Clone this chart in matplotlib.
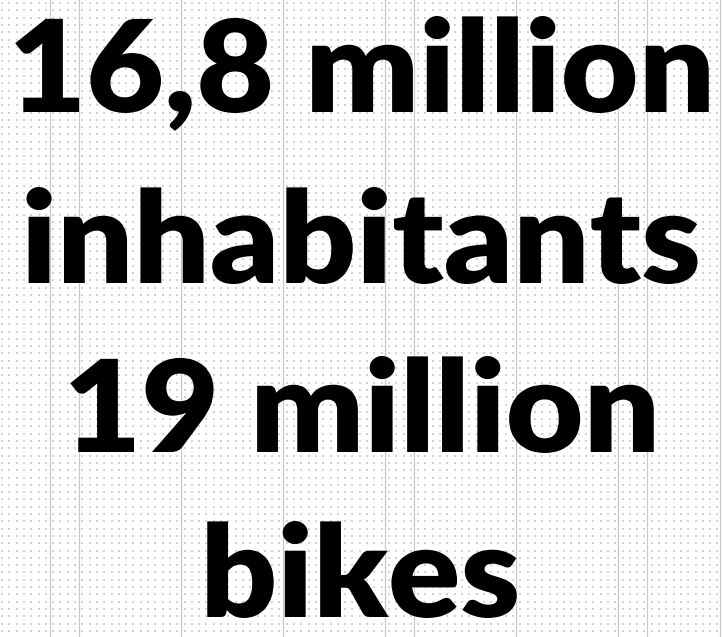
import numpy as np
import matplotlib
matplotlib.use("Agg")
import matplotlib.pyplot as plt
from matplotlib.textpath import TextPath
from matplotlib.patches import PathPatch
from matplotlib.font_manager import FontProperties
from matplotlib.transforms import Affine2D

lines = ["16,8 million", "inhabitants", "19 million", "bikes"]
baselines = [112, 283, 452, 617]
vlines_x = [50, 79, 181, 283, 385, 414, 516, 618, 647, 720]

W, H = 722, 637
fig = plt.figure(figsize=(W / 100, H / 100), dpi=100)
ax = fig.add_axes([0, 0, 1, 1])
ax.set_xlim(0, W)
ax.set_ylim(H, 0)
ax.axis("off")

# faint dotted background grid
gx, gy = np.meshgrid(np.arange(2, W, 7.3), np.arange(3, H, 7.3))
ax.scatter(gx.ravel(), gy.ravel(), s=0.7, c="#d2d2d2", marker="s",
           linewidths=0, zorder=1)
for x in vlines_x:
    ax.axvline(x, color="#c8c8c8", lw=0.9, zorder=2)

prop = FontProperties(family="Lato", weight="heavy")
size_px = 92 * 100 / 72
sx = 1.05
for txt, y in zip(lines, baselines):
    tp = TextPath((0, 0), txt, size=size_px, prop=prop)
    ext = tp.get_extents()
    cx = (ext.x0 + ext.x1) / 2
    tr = Affine2D().translate(-cx, 0).scale(sx, -1).translate(W / 2 + 1, y)
    path = tr.transform_path(tp)
    ax.add_patch(PathPatch(path, facecolor="black", edgecolor="none", zorder=5))

fig.savefig("out.png", dpi=100)
